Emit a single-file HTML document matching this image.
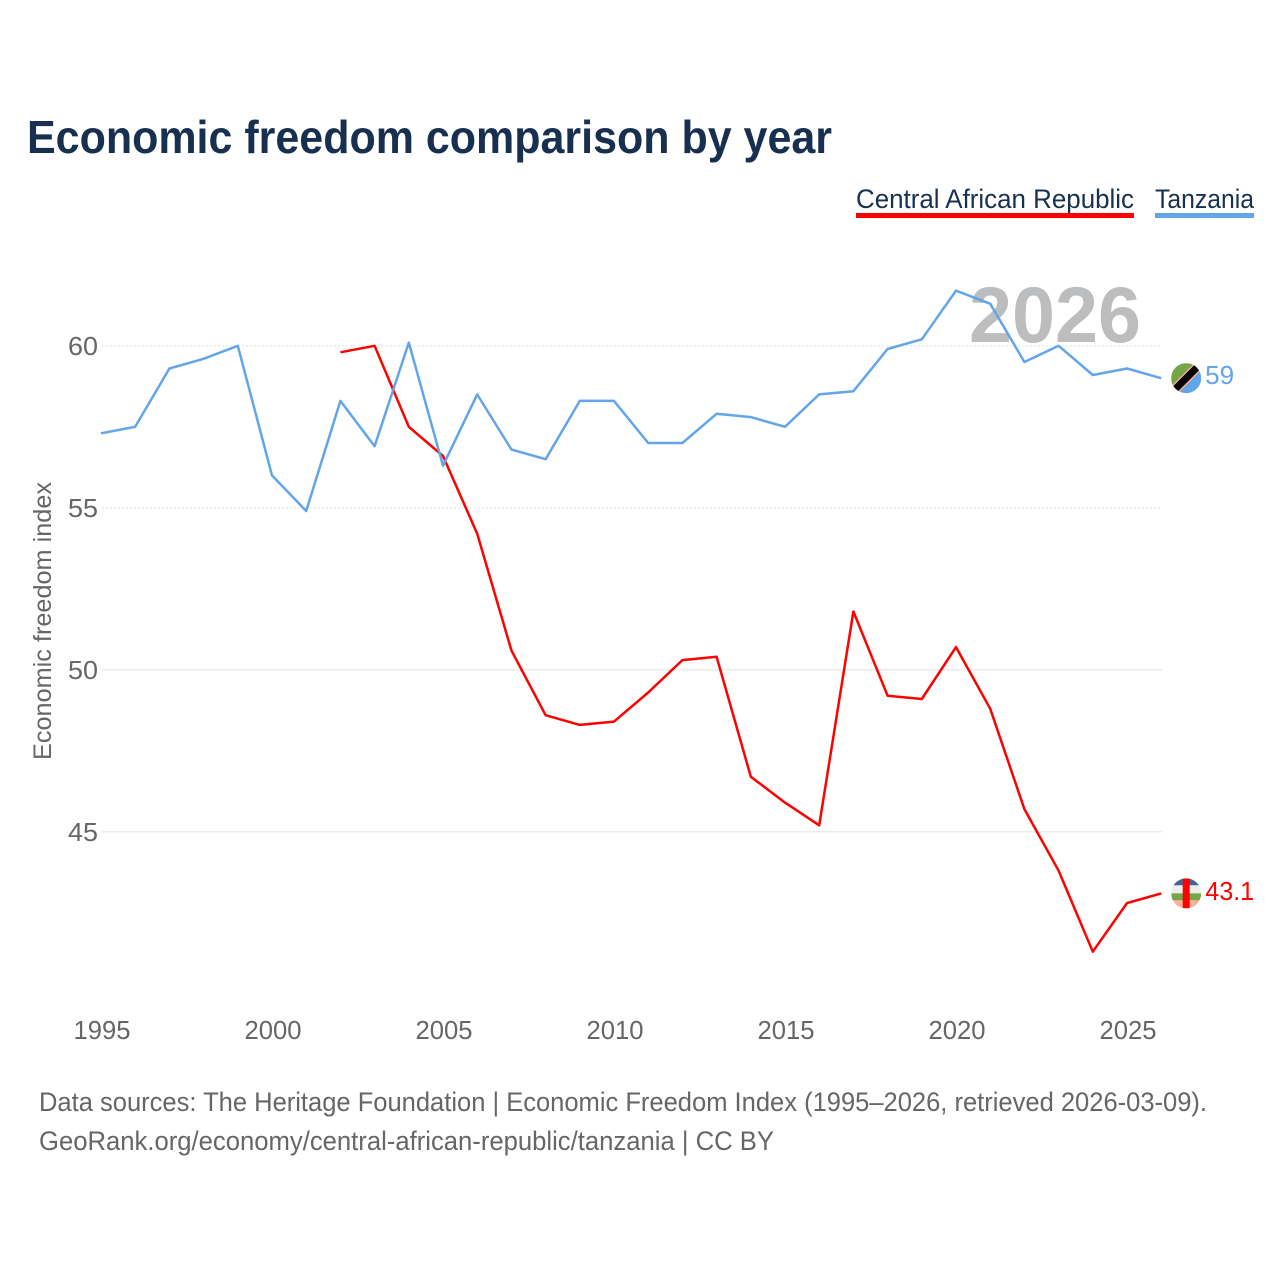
<!DOCTYPE html>
<html lang="en">
<head>
<meta charset="utf-8">
<title>Economic freedom comparison by year</title>
<style>
html,body{margin:0;padding:0;background:#fff;width:1280px;height:1280px;overflow:hidden}
svg{display:block;font-family:"Liberation Sans",sans-serif}
</style>
</head>
<body>
<svg id="chart" xmlns="http://www.w3.org/2000/svg" width="1280" height="1280" viewBox="0 0 1280 1280">
  <defs>
    <clipPath id="flag-clip"><circle cx="0" cy="0" r="15"/></clipPath>
  </defs>
  <rect width="1280" height="1280" fill="#fff"/>
  <text x="27" y="153" font-size="46" font-weight="700" fill="#18304f" textLength="805" lengthAdjust="spacingAndGlyphs">Economic freedom comparison by year</text>

  <g>
    <text x="856" y="208" font-size="27" fill="#18304f" textLength="278" lengthAdjust="spacingAndGlyphs">Central African Republic</text>
    <rect x="856" y="213" width="278" height="5" fill="#ff0000"/>
  </g>
  <g>
    <text x="1155" y="208" font-size="27" fill="#18304f" textLength="99" lengthAdjust="spacingAndGlyphs">Tanzania</text>
    <rect x="1155" y="213" width="99" height="5" fill="#62a5ea"/>
  </g>

  <text transform="translate(51,760) rotate(-90)" font-size="25" fill="#666" textLength="278" lengthAdjust="spacingAndGlyphs">Economic freedom index</text>

  <g id="grid"></g>
  <g id="y-ticks"></g>
  <g id="x-ticks"></g>

  <text x="1141" y="342" text-anchor="end" font-size="79" font-weight="700" fill="#bcbdbe" textLength="172" lengthAdjust="spacingAndGlyphs" style="mix-blend-mode:multiply">2026</text>

  <g id="series"></g>

  <text x="39" y="1111" font-size="27" fill="#666" textLength="1168" lengthAdjust="spacingAndGlyphs">Data sources: The Heritage Foundation | Economic Freedom Index (1995–2026, retrieved 2026-03-09).</text>
  <text x="39" y="1150" font-size="27" fill="#666" textLength="735" lengthAdjust="spacingAndGlyphs">GeoRank.org/economy/central-african-republic/tanzania | CC BY</text>
</svg>
<script>
const years = [1995,1996,1997,1998,1999,2000,2001,2002,2003,2004,2005,2006,2007,2008,2009,2010,2011,2012,2013,2014,2015,2016,2017,2018,2019,2020,2021,2022,2023,2024,2025,2026];
const tanzaniaValues = [57.3,57.5,59.3,59.6,60.0,56.0,54.9,58.3,56.9,60.1,56.3,58.5,56.8,56.5,58.3,58.3,57.0,57.0,57.9,57.8,57.5,58.5,58.6,59.9,60.2,61.7,61.3,59.5,60.0,59.1,59.3,59.0];
const carValues = [null,null,null,null,null,null,null,59.8,60.0,57.5,56.6,54.2,50.6,48.6,48.3,48.4,49.3,50.3,50.4,46.7,45.9,45.2,51.8,49.2,49.1,50.7,48.8,45.7,43.8,41.3,42.8,43.1];
const yTickLabels = [60,55,50,45];
const xTickLabels = [1995,2000,2005,2010,2015,2020,2025];
const dottedGridTicks = [60,55];

const NS = 'http://www.w3.org/2000/svg';
const xScale = function (year) { return 101 + (year - 1995) * 34.2; };
const yScale = function (value) { return 345.8 + (60 - value) * 32.4; };
const make = function (parent, tag, attrs) {
  const el = document.createElementNS(NS, tag);
  for (const k in attrs) el.setAttribute(k, attrs[k]);
  parent.appendChild(el);
  return el;
};

const grid = document.getElementById('grid');
const yTicks = document.getElementById('y-ticks');
yTickLabels.forEach(function (v) {
  const line = make(grid, 'line', {x1: 102, x2: 1162, y1: yScale(v), y2: yScale(v), stroke: '#e6e6e6', 'stroke-width': 1.2});
  if (dottedGridTicks.indexOf(v) >= 0) line.setAttribute('stroke-dasharray', '2 2');
  
  
  const t = make(yTicks, 'text', {x: 98, y: yScale(v) + 9, 'text-anchor': 'end', 'font-size': 26, fill: '#666', textLength: 30, lengthAdjust: 'spacingAndGlyphs'});
  
  
  t.textContent = v;
});

const xTicks = document.getElementById('x-ticks');
xTickLabels.forEach(function (y) {
  const t = make(xTicks, 'text', {x: xScale(y) + 1, y: 1039, 'text-anchor': 'middle', 'font-size': 26, fill: '#666', textLength: 57, lengthAdjust: 'spacingAndGlyphs'});
  
  
  t.textContent = y;
});

const seriesGroup = document.getElementById('series');
const linePath = function (values) {
  let d = '';
  values.forEach(function (v, i) {
    if (v === null) return;
    d += (d ? 'L' : 'M') + xScale(years[i]).toFixed(1) + ' ' + yScale(v).toFixed(1);
  });
  return d;
};

const carLine = make(seriesGroup, 'path', {d: linePath(carValues), fill: 'none', stroke: '#ff0000', 'stroke-width': 2.5, 'stroke-linejoin': 'round'});


const tzLine = make(seriesGroup, 'path', {d: linePath(tanzaniaValues), fill: 'none', stroke: '#62a5ea', 'stroke-width': 2.5, 'stroke-linejoin': 'round'});



const lastIndex = years.length - 1;
const endX = xScale(years[lastIndex]) + 25;

// Tanzania flag marker
const tzY = yScale(tanzaniaValues[lastIndex]);
const tzFlag = make(seriesGroup, 'g', {transform: 'translate(' + endX + ',' + tzY + ')', 'clip-path': 'url(#flag-clip)'});


make(tzFlag, 'rect', {x: -15, y: -15, width: 30, height: 30, fill: '#62a5ea'});
make(tzFlag, 'polygon', {points: '-15,-15 15,-15 -15,15', fill: '#76a548'});
make(tzFlag, 'line', {x1: -17, y1: 17, x2: 17, y2: -17, stroke: '#f4a98c', 'stroke-width': 10});
make(tzFlag, 'line', {x1: -17, y1: 17, x2: 17, y2: -17, stroke: '#000', 'stroke-width': 7});
const tzLabel = make(seriesGroup, 'text', {x: endX + 19, y: tzY + 6, 'font-size': 26, fill: '#62a5ea', textLength: 29, lengthAdjust: 'spacingAndGlyphs'});


tzLabel.textContent = tanzaniaValues[lastIndex];

// Central African Republic flag marker
const carY = yScale(carValues[lastIndex]);
const carFlag = make(seriesGroup, 'g', {transform: 'translate(' + endX + ',' + carY + ')', 'clip-path': 'url(#flag-clip)'});


make(carFlag, 'rect', {x: -15, y: -15, width: 30, height: 7, fill: '#46648f'});
make(carFlag, 'rect', {x: -15, y: -8, width: 30, height: 8, fill: '#eeeeee'});
make(carFlag, 'rect', {x: -15, y: 0, width: 30, height: 7, fill: '#76a548'});
make(carFlag, 'rect', {x: -15, y: 7, width: 30, height: 8, fill: '#fbb09a'});
make(carFlag, 'rect', {x: -3.5, y: -15, width: 7, height: 30, fill: '#ff0000'});
const carLabel = make(seriesGroup, 'text', {x: endX + 19, y: carY + 6.5, 'font-size': 26, fill: '#ff0000', textLength: 49, lengthAdjust: 'spacingAndGlyphs'});


carLabel.textContent = carValues[lastIndex];
</script>
</body>
</html>
